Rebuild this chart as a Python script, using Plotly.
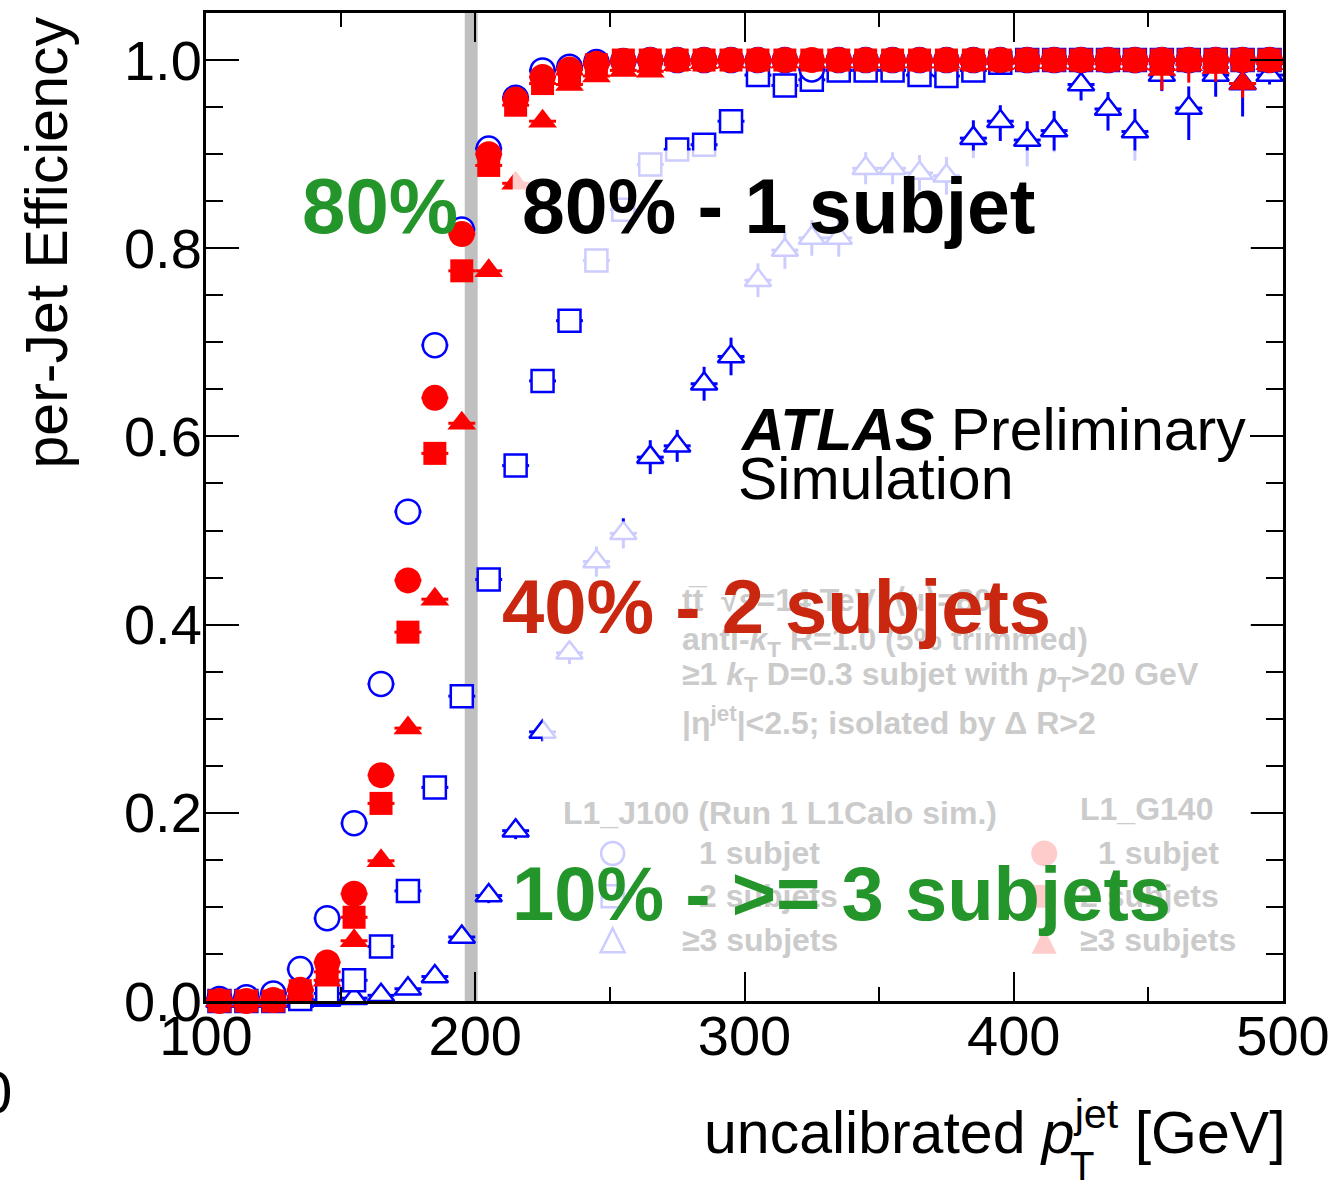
import plotly.graph_objects as go

# ---------------- data ----------------
pt_bins = [105, 115, 125, 135, 145, 155, 165, 175, 185, 195,
           205, 215, 225, 235, 245, 255, 265, 275, 285, 295,
           305, 315, 325, 335, 345, 355, 365, 375, 385, 395,
           405, 415, 425, 435, 445, 455, 465, 475, 485, 495]
half_bin = 5

# L1_J100 (Run 1 L1Calo sim.)
j100_1sub = [0.002, 0.004, 0.008, 0.034, 0.088, 0.189, 0.337, 0.520, 0.697, 0.820,
             0.906, 0.960, 0.989, 0.993, 0.998, 0.999, 1.0, 1.0, 1.0, 1.0,
             1.0, 1.0, 0.990, 1.0, 1.0, 1.0, 1.0, 1.0, 1.0, 1.0,
             1.0, 1.0, 1.0, 1.0, 1.0, 1.0, 1.0, 1.0, 1.0, 1.0]
j100_2sub = [0.0, 0.0, 0.0, 0.002, 0.008, 0.022, 0.058, 0.117, 0.227, 0.324,
             0.448, 0.569, 0.659, 0.723, 0.787, 0.841, 0.889, 0.905, 0.910, 0.935,
             0.984, 0.973, 0.979, 0.989, 0.989, 0.989, 0.984, 0.983, 0.989, 0.997,
             1.0, 1.0, 1.0, 1.0, 1.0, 1.0, 1.0, 1.0, 1.0, 1.0]
j100_3sub = [0.0, 0.0, 0.0, 0.0, 0.001, 0.003, 0.006, 0.013, 0.026, 0.068,
             0.112, 0.181, 0.286, 0.370, 0.467, 0.497, 0.578, 0.590, 0.656, 0.685,
             0.766, 0.798, 0.811, 0.811, 0.885, 0.885, 0.880, 0.877, 0.917, 0.935,
             0.915, 0.925, 0.974, 0.948, 0.924, 0.984, 0.949, 0.984, 0.975, 0.984]
j100_3sub_err_up = [0.0, 0.0, 0.0, 0.0, 0.001, 0.002, 0.003, 0.004, 0.005, 0.007,
                    0.008, 0.009, 0.010, 0.012, 0.016, 0.016, 0.018, 0.017, 0.018, 0.020,
                    0.018, 0.020, 0.019, 0.020, 0.017, 0.017, 0.019, 0.020, 0.019, 0.017,
                    0.020, 0.021, 0.012, 0.018, 0.024, 0.008, 0.023, 0.007, 0.005, 0.005]
j100_3sub_err_dn = [0.0, 0.0, 0.0, 0.0, 0.001, 0.002, 0.003, 0.004, 0.005, 0.007,
                    0.008, 0.009, 0.010, 0.012, 0.016, 0.016, 0.018, 0.017, 0.018, 0.020,
                    0.018, 0.020, 0.019, 0.020, 0.017, 0.017, 0.019, 0.020, 0.021, 0.021,
                    0.028, 0.023, 0.017, 0.023, 0.031, 0.017, 0.034, 0.023, 0.035, 0.010]

# L1_G140
g140_1sub = [0.0, 0.0, 0.001, 0.012, 0.041, 0.114, 0.240, 0.447, 0.641, 0.815,
             0.900, 0.958, 0.982, 0.990, 0.996, 0.999, 1.0, 1.0, 1.0, 1.0,
             1.0, 1.0, 1.0, 1.0, 1.0, 1.0, 1.0, 1.0, 1.0, 1.0,
             1.0, 1.0, 1.0, 1.0, 1.0, 1.0, 1.0, 1.0, 1.0, 1.0]
g140_2sub = [0.0, 0.0, 0.0, 0.011, 0.031, 0.089, 0.210, 0.392, 0.582, 0.776,
             0.888, 0.952, 0.975, 0.985, 0.995, 1.0, 1.0, 1.0, 1.0, 1.0,
             1.0, 1.0, 1.0, 1.0, 1.0, 1.0, 1.0, 1.0, 1.0, 1.0,
             1.0, 1.0, 1.0, 1.0, 1.0, 1.0, 1.0, 1.0, 1.0, 1.0]
g140_3sub = [0.0, 0.0, 0.0, 0.005, 0.022, 0.064, 0.149, 0.290, 0.427, 0.614,
             0.776, 0.869, 0.935, 0.974, 0.983, 0.989, 0.988, 0.995, 0.997, 0.998,
             0.998, 0.998, 0.998, 0.998, 0.998, 0.998, 0.998, 0.998, 0.996, 0.996,
             0.997, 0.997, 0.996, 0.996, 0.996, 0.990, 0.995, 0.992, 0.975, 0.996]
g140_3sub_err_up = [0.0] * 40
g140_3sub_err_dn = [0.0, 0.0, 0.0, 0.001, 0.002, 0.003, 0.004, 0.005, 0.005, 0.005,
                    0.005, 0.005, 0.005, 0.004, 0.004, 0.004, 0.004, 0.004, 0.004, 0.004,
                    0.004, 0.004, 0.004, 0.004, 0.004, 0.004, 0.004, 0.004, 0.006, 0.008,
                    0.008, 0.008, 0.009, 0.009, 0.010, 0.022, 0.019, 0.015, 0.015, 0.008]

x_ticks = [100, 200, 300, 400, 500]
y_ticks = [0.0, 0.2, 0.4, 0.6, 0.8, 1.0]
threshold_band = [196.1, 200.9]

BLUE = "#0000ff"
RED = "#ff0000"
GREEN = "#24952a"
DARKRED = "#c9270f"
FADE_TXT = "#cbcbcb"
FADE_BLUE = "#ccccff"
FADE_RED = "#ffcccc"
FONT = "Liberation Sans, Arial, Helvetica, sans-serif"

# ---------------- figure ----------------
fig = go.Figure()


def add_series(y, symbol, size, fill, line_color, line_w, err_up=None, err_dn=None, ecolor=BLUE):
    ey = None
    if err_up is not None:
        ey = dict(type="data", array=err_up, arrayminus=err_dn, symmetric=False,
                  color=ecolor, thickness=3, width=0)
    fig.add_trace(go.Scatter(
        x=pt_bins, y=y, mode="markers", cliponaxis=False,
        marker=dict(symbol=symbol, size=size, color=fill,
                    line=dict(color=line_color, width=line_w)),
        error_x=dict(type="constant", value=half_bin, color=ecolor, thickness=3, width=0),
        error_y=ey,
        showlegend=False, hoverinfo="x+y"))


add_series(j100_3sub, "triangle-up", 23, "white", BLUE, 2.5, j100_3sub_err_up, j100_3sub_err_dn, BLUE)
add_series(j100_2sub, "square", 22, "white", BLUE, 2.5)
add_series(j100_1sub, "circle", 24, "white", BLUE, 2.5)
add_series(g140_1sub, "circle", 26, RED, RED, 0, ecolor=RED)
add_series(g140_2sub, "square", 23, RED, RED, 0, ecolor=RED)
add_series(g140_3sub, "triangle-up", 25, RED, RED, 0, g140_3sub_err_up, g140_3sub_err_dn, RED)

L, R, T, B = 206, 56, 10, 182
W, H = 1340, 1183
PW, PH = W - L - R, H - T - B


def px(xp):
    return (xp - L) / PW


def py(yp):
    return 1 - (yp - T) / PH


shapes = [
    dict(type="rect", xref="x", yref="paper", x0=threshold_band[0], x1=threshold_band[1],
         y0=0, y1=1, fillcolor="#c0c0c0", line=dict(width=0), layer="below"),
    dict(type="rect", xref="paper", yref="paper", x0=px(543), x1=px(1252), y0=py(960), y1=py(520),
         fillcolor="rgba(255,255,255,0.8)", line=dict(width=0), layer="above"),
    dict(type="rect", xref="paper", yref="paper", x0=px(513), x1=px(1252), y0=py(300), y1=py(148),
         fillcolor="rgba(255,255,255,0.8)", line=dict(width=0), layer="above"),
]


def legend_marker(kind, cx, cy, half, color, filled):
    base = dict(xref="paper", yref="paper", layer="above",
                line=dict(color=color, width=0 if filled else 2.5),
                fillcolor=color if filled else "rgba(0,0,0,0)")
    if kind == "circle":
        base.update(type="circle", x0=px(cx - half), x1=px(cx + half), y0=py(cy + half), y1=py(cy - half))
    elif kind == "square":
        base.update(type="rect", x0=px(cx - half), x1=px(cx + half), y0=py(cy + half), y1=py(cy - half))
    else:
        p = "M {:.5f},{:.5f} L {:.5f},{:.5f} L {:.5f},{:.5f} Z".format(
            px(cx - half), py(cy + half), px(cx + half), py(cy + half), px(cx), py(cy - half))
        base.update(type="path", path=p)
    shapes.append(base)


legend_marker("circle", 613, 853, 11.5, FADE_BLUE, False)
legend_marker("square", 613, 896, 11, FADE_BLUE, False)
legend_marker("triangle", 613, 940, 12, FADE_BLUE, False)
legend_marker("circle", 1045, 853, 13, FADE_RED, True)
legend_marker("square", 1045, 896, 11.5, FADE_RED, True)
legend_marker("triangle", 1045, 941, 12.5, FADE_RED, True)

ann = []


def A(text, xp, yp, size, color="black", xanchor="left", yanchor="middle", angle=0):
    ann.append(dict(text=text, x=px(xp), y=py(yp), xref="paper", yref="paper",
                    xanchor=xanchor, yanchor=yanchor, showarrow=False, textangle=angle,
                    font=dict(family=FONT, size=size, color=color)))


# faded info text
A("<b>tt̅  √s=14 TeV  ⟨μ⟩=80</b>", 680, 599, 32, FADE_TXT)
A("<b>anti-<i>k</i><sub>T</sub> R=1.0 (5% trimmed)</b>", 680, 640, 32, FADE_TXT)
A("<b>≥1 <i>k</i><sub>T</sub> D=0.3 subjet with <i>p</i><sub>T</sub>&gt;20 GeV</b>", 680, 676, 32, FADE_TXT)
A("<b>|η<sup>jet</sup>|&lt;2.5; isolated by Δ R&gt;2</b>", 680, 720, 32, FADE_TXT)
# faded legend
A("<b>L1_J100 (Run 1 L1Calo sim.)</b>", 561, 812, 32, FADE_TXT)
A("<b>L1_G140</b>", 1079, 808, 32, FADE_TXT)
A("<b>1 subjet</b>", 697, 853, 32, FADE_TXT)
A("<b>2 subjets</b>", 697, 896, 32, FADE_TXT)
A("<b>≥3 subjets</b>", 680, 940, 32, FADE_TXT)
A("<b>1 subjet</b>", 1097, 853, 32, FADE_TXT)
A("<b>2 subjets</b>", 1079, 896, 32, FADE_TXT)
A("<b>≥3 subjets</b>", 1079, 940, 32, FADE_TXT)

# ATLAS label
A("<b><i>ATLAS</i></b> Preliminary", 738, 428, 59)
A("Simulation", 736, 477, 59)

# big annotations
A("<b>80%</b>", 300, 204, 78, GREEN)
A("<b>80% - 1 subjet</b>", 520, 204, 77, "black")
A("<b>40% - 2 subjets</b>", 500, 605, 76, DARKRED)
A("<b>10% - &gt;= 3 subjets</b>", 510, 893, 76, GREEN)

# axis titles
A("uncalibrated <i>p</i><sup>jet</sup> [GeV]", 1289, 1129, 59, "black", "right")
A("T", 1083, 1167, 40, "black", "center")
A("per-Jet Efficiency", 47, 240, 59, "black", "center", "middle", -90)
A("0", 14, 1093, 60, "black", "right")

fig.update_layout(
    width=W, height=H,
    margin=dict(l=L, r=R, t=T, b=B, pad=0),
    paper_bgcolor="white", plot_bgcolor="white",
    showlegend=False,
    shapes=shapes, annotations=ann,
    font=dict(family=FONT, size=56, color="black"),
    xaxis=dict(range=[100, 500], tickvals=x_ticks, ticks="inside", ticklen=29, tickwidth=2,
               tickcolor="black", showline=True, linewidth=3, linecolor="black", mirror="ticks",
               showgrid=False, zeroline=False, tickfont=dict(size=56, family=FONT),
               ticklabelstandoff=-16,
               minor=dict(dtick=50, ticks="inside", ticklen=14, tickwidth=2, tickcolor="black",
                          showgrid=False)),
    yaxis=dict(range=[0, 1.05], tickvals=y_ticks, tickformat=".1f", ticks="inside", ticklen=33,
               tickwidth=2, tickcolor="black", showline=True, linewidth=3, linecolor="black",
               mirror="ticks", showgrid=False, zeroline=False,
               tickfont=dict(size=56, family=FONT), ticklabelstandoff=-10,
               minor=dict(dtick=0.05, tick0=0, ticks="inside", ticklen=17, tickwidth=2,
                          tickcolor="black", showgrid=False)),
)

fig.write_html("out.html", config={"displayModeBar": False},
               post_script="document.body.style.margin='0px';")
